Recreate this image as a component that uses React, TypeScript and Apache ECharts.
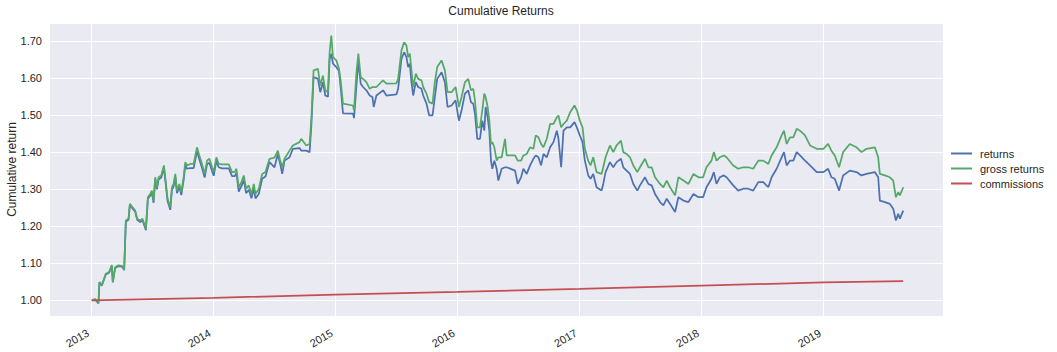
import React, { useEffect, useRef } from "react";
import * as echarts from "echarts";

const dates: string[] = [
  "2013-01-02","2013-01-12","2013-01-22","2013-01-25","2013-02-01","2013-02-13","2013-02-23","2013-03-03","2013-03-06","2013-03-13",
  "2013-03-23","2013-04-04","2013-04-09","2013-04-14","2013-04-22","2013-04-26","2013-05-04","2013-05-12","2013-05-18","2013-05-27",
  "2013-06-03","2013-06-13","2013-06-19","2013-06-26","2013-07-01","2013-07-06","2013-07-11","2013-07-16","2013-07-21","2013-07-29",
  "2013-08-06","2013-08-10","2013-08-17","2013-08-25","2013-08-30","2013-09-04","2013-09-09","2013-09-14","2013-09-21","2013-09-27",
  "2013-10-04","2013-10-09","2013-10-14","2013-10-24","2013-11-03","2013-11-13","2013-11-20","2013-11-28","2013-12-06","2013-12-13",
  "2013-12-20","2013-12-28",
  "2014-01-02","2014-01-10","2014-01-17","2014-01-27","2014-02-16","2014-02-26","2014-03-06","2014-03-11","2014-03-18","2014-03-26",
  "2014-04-02","2014-04-09","2014-04-17","2014-04-25","2014-05-02","2014-05-07","2014-05-17","2014-05-27","2014-06-06","2014-06-18",
  "2014-07-03","2014-07-13","2014-07-20","2014-07-26","2014-08-02","2014-08-17","2014-08-27","2014-09-16","2014-09-21","2014-10-06",
  "2014-10-16","2014-10-21","2014-10-28","2014-11-10","2014-11-17","2014-11-25","2014-12-02","2014-12-10","2014-12-15","2014-12-20",
  "2014-12-25",
  "2015-01-04","2015-01-12","2015-01-17","2015-01-24","2015-02-23","2015-02-26","2015-03-05","2015-03-11","2015-03-18","2015-03-25",
  "2015-04-04","2015-04-14","2015-04-22","2015-04-26","2015-05-04","2015-05-24","2015-06-03","2015-07-03","2015-07-08","2015-07-18",
  "2015-07-26","2015-08-02","2015-08-07","2015-08-12","2015-08-17","2015-08-22","2015-08-30","2015-09-06","2015-09-16","2015-09-21",
  "2015-10-01","2015-10-09","2015-10-19","2015-10-26","2015-11-02","2015-11-15","2015-11-25","2015-12-03","2015-12-15","2015-12-27",
  "2016-01-06","2016-01-14","2016-01-24","2016-02-03","2016-02-11","2016-02-18","2016-02-23","2016-03-01","2016-03-09","2016-03-16",
  "2016-03-22","2016-03-26","2016-04-01","2016-04-06","2016-04-11","2016-04-15","2016-04-21","2016-04-28","2016-05-03","2016-05-13",
  "2016-05-23","2016-05-28","2016-06-22","2016-06-30","2016-07-10","2016-07-17","2016-07-27","2016-08-06","2016-08-16","2016-08-23",
  "2016-08-31","2016-09-08","2016-09-15","2016-09-25","2016-10-05","2016-10-15","2016-10-25","2016-10-30","2016-11-07","2016-11-14",
  "2016-11-24","2016-12-04","2016-12-17","2016-12-24",
  "2017-01-02","2017-01-10","2017-01-17","2017-01-27","2017-02-03","2017-02-11","2017-02-21","2017-03-08","2017-03-13","2017-03-20",
  "2017-04-02","2017-04-12","2017-04-22","2017-05-05","2017-05-12","2017-05-22","2017-06-01","2017-06-11","2017-06-23","2017-07-01",
  "2017-07-16","2017-07-26","2017-08-05","2017-08-15","2017-08-30","2017-09-09","2017-09-19","2017-09-29","2017-10-14","2017-10-24",
  "2017-11-08","2017-11-23","2017-12-08","2017-12-23",
  "2018-01-06","2018-01-16","2018-01-31","2018-02-07","2018-02-15","2018-02-25","2018-03-09","2018-03-17","2018-04-06","2018-04-21",
  "2018-05-06","2018-05-21","2018-06-05","2018-06-20","2018-07-05","2018-07-20","2018-07-30","2018-08-14","2018-08-29","2018-09-05",
  "2018-09-13","2018-09-23","2018-10-03","2018-10-13","2018-10-23","2018-11-07","2018-11-22","2018-12-12",
  "2019-01-01","2019-01-15","2019-01-25","2019-02-04","2019-02-17","2019-03-01","2019-03-21","2019-04-10","2019-04-25","2019-05-10",
  "2019-06-04","2019-06-14","2019-06-19","2019-07-04","2019-07-19","2019-07-29","2019-08-06","2019-08-13","2019-08-18","2019-08-28",
];

const grossReturns: number[] = [
  1.000,1.004,0.993,1.050,1.041,1.072,1.077,1.096,1.050,1.090,
  1.095,1.093,1.084,1.216,1.221,1.261,1.252,1.243,1.221,1.216,
  1.221,1.194,1.279,1.288,1.297,1.270,1.333,1.306,1.333,1.338,
  1.365,1.333,1.275,1.252,1.306,1.315,1.342,1.297,1.315,1.293,
  1.333,1.374,1.365,1.369,1.369,1.414,1.392,1.369,1.342,1.378,
  1.383,1.360,
  1.347,1.387,1.369,1.368,1.368,1.347,1.347,1.356,1.306,1.320,
  1.338,1.302,1.311,1.288,1.315,1.288,1.302,1.342,1.347,1.383,
  1.386,1.405,1.378,1.360,1.383,1.405,1.419,1.428,1.437,1.419,
  1.423,1.486,1.622,1.626,1.581,1.608,1.568,1.563,1.671,1.716,
  1.658,
  1.649,1.626,1.595,1.532,1.527,1.514,1.613,1.667,1.604,1.599,
  1.590,1.572,1.577,1.577,1.577,1.595,1.586,1.587,1.599,1.676,
  1.698,1.689,1.658,1.667,1.622,1.577,1.613,1.599,1.595,1.577,
  1.559,1.536,1.532,1.590,1.631,1.649,1.622,1.563,1.563,1.577,
  1.523,1.550,1.590,1.599,1.568,1.572,1.541,1.468,1.468,1.514,
  1.559,1.550,1.523,1.486,1.423,1.428,1.414,1.378,1.387,1.387,
  1.437,1.392,1.392,1.378,1.378,1.392,1.396,1.414,1.410,1.446,
  1.441,1.423,1.414,1.437,1.477,1.477,1.495,1.500,1.468,1.477,
  1.486,1.509,1.527,1.514,
  1.486,1.468,1.410,1.378,1.365,1.387,1.347,1.342,1.360,1.387,
  1.419,1.401,1.419,1.432,1.401,1.396,1.387,1.365,1.347,1.360,
  1.383,1.360,1.360,1.333,1.315,1.306,1.324,1.306,1.284,1.333,
  1.324,1.315,1.342,1.333,
  1.333,1.360,1.378,1.401,1.378,1.387,1.392,1.387,1.365,1.356,
  1.360,1.360,1.356,1.378,1.378,1.369,1.392,1.414,1.446,1.459,
  1.423,1.441,1.441,1.464,1.459,1.446,1.419,1.410,
  1.410,1.423,1.405,1.392,1.360,1.401,1.423,1.414,1.401,1.410,
  1.414,1.387,1.342,1.338,1.333,1.324,1.279,1.293,1.284,1.306,
];

const netReturns: number[] = [
  1.000,1.003,0.992,1.049,1.040,1.070,1.075,1.094,1.049,1.088,
  1.093,1.091,1.082,1.213,1.218,1.258,1.249,1.240,1.218,1.212,
  1.217,1.190,1.275,1.283,1.292,1.264,1.328,1.300,1.327,1.332,
  1.359,1.326,1.268,1.245,1.299,1.308,1.335,1.290,1.307,1.285,
  1.325,1.365,1.356,1.358,1.358,1.404,1.382,1.358,1.332,1.368,
  1.372,1.350,
  1.337,1.377,1.360,1.357,1.357,1.336,1.336,1.345,1.294,1.309,
  1.326,1.290,1.299,1.276,1.302,1.276,1.288,1.329,1.335,1.374,
  1.360,1.396,1.369,1.342,1.378,1.387,1.410,1.412,1.405,1.405,
  1.401,1.468,1.604,1.599,1.563,1.590,1.554,1.551,1.653,1.667,
  1.640,
  1.631,1.620,1.577,1.506,1.505,1.493,1.577,1.649,1.586,1.577,
  1.568,1.554,1.550,1.523,1.554,1.568,1.554,1.557,1.572,1.653,
  1.671,1.658,1.631,1.640,1.590,1.554,1.590,1.577,1.572,1.554,
  1.532,1.500,1.500,1.550,1.599,1.617,1.590,1.523,1.527,1.541,
  1.486,1.514,1.559,1.568,1.536,1.532,1.505,1.437,1.437,1.486,
  1.459,1.523,1.495,1.459,1.378,1.356,1.378,1.356,1.324,1.356,
  1.360,1.360,1.351,1.315,1.333,1.356,1.342,1.365,1.383,1.392,
  1.387,1.365,1.396,1.387,1.414,1.428,1.459,1.437,1.360,1.459,
  1.468,1.468,1.482,1.468,
  1.446,1.428,1.378,1.338,1.329,1.342,1.306,1.297,1.315,1.347,
  1.374,1.360,1.374,1.383,1.360,1.351,1.342,1.315,1.297,1.311,
  1.333,1.315,1.311,1.288,1.266,1.257,1.275,1.261,1.239,1.279,
  1.270,1.266,1.288,1.279,
  1.279,1.306,1.329,1.347,1.315,1.333,1.338,1.333,1.311,1.297,
  1.302,1.302,1.297,1.320,1.320,1.306,1.333,1.356,1.387,1.401,
  1.365,1.378,1.378,1.401,1.392,1.378,1.365,1.347,
  1.347,1.356,1.333,1.329,1.297,1.338,1.351,1.347,1.338,1.342,
  1.347,1.333,1.270,1.266,1.261,1.248,1.216,1.234,1.221,1.243,
];

const commissionDates: string[] = [
  "2013-01-02","2014-01-01","2015-01-01","2016-01-01","2017-01-01","2018-01-01","2019-01-01","2019-08-28",
];
const commissionValues: number[] = [1.000, 1.007, 1.016, 1.023, 1.031, 1.040, 1.049, 1.052];

const yearTicks: string[] = ["2013-01-01","2014-01-01","2015-01-01","2016-01-01","2017-01-01","2018-01-01","2019-01-01"];

const seriesNames = ["returns", "gross returns", "commissions"];
const seriesColors = ["#4C72B0", "#55A868", "#C44E52"];
const yMin = 0.958;
const yMax = 1.75;
const xMin = "2012-08-30";
const xMax = "2019-12-25";

const FONT = "'Liberation Sans', Arial, 'DejaVu Sans', sans-serif";
const TEXT = "#262626";

const ts = (d: string) => Date.parse(d + "T00:00:00Z");

export default function App() {
  const ref = useRef<HTMLDivElement>(null);
  useEffect(() => {
    if (!ref.current) return;
    const chart = echarts.init(ref.current, undefined, { renderer: "svg" });
    const pair = (ds: string[], vs: number[]) => ds.map((d, i) => [ts(d), vs[i]]);
    const tickVals = yearTicks.map(ts);
    chart.setOption({
      animation: false,
      backgroundColor: "#ffffff",
      textStyle: { fontFamily: FONT },
      title: {
        text: "Cumulative Returns",
        left: 496,
        textAlign: "center",
        top: 0,
        textStyle: { fontSize: 12, fontWeight: "normal", color: TEXT, fontFamily: FONT },
      },
      legend: {
        orient: "vertical",
        left: 946,
        top: 142,
        icon: "rect",
        itemWidth: 21,
        itemHeight: 2,
        itemGap: 2,
        data: seriesNames,
        textStyle: { fontSize: 11, color: TEXT, fontFamily: FONT, lineHeight: 13, padding: [0, 0, 0, 3] },
      },
      grid: {
        left: 50,
        top: 23,
        right: 114,
        bottom: 36,
        show: true,
        backgroundColor: "#EAEAF2",
        borderWidth: 0,
        containLabel: false,
        outerBoundsMode: "none",
      },
      xAxis: {
        type: "value",
        min: ts(xMin),
        max: ts(xMax),
        axisLine: { show: false },
        axisTick: { show: false, customValues: tickVals },
        axisLabel: {
          customValues: tickVals,
          rotate: 30,
          margin: 14,
          padding: [0, 4, 0, 0],
          fontSize: 11,
          color: TEXT,
          fontFamily: FONT,
          formatter: (v: number) => String(new Date(v).getUTCFullYear()),
        },
        splitLine: { show: true, lineStyle: { color: "#ffffff", width: 1 } },
      },
      yAxis: {
        type: "value",
        min: yMin,
        max: yMax,
        splitNumber: 8,
        minInterval: 0.1,
        maxInterval: 0.1,
        name: "Cumulative return",
        nameLocation: "middle",
        nameGap: 32,
        nameMoveOverlap: false,
        nameTextStyle: { fontSize: 12, color: TEXT, fontFamily: FONT },
        axisLine: { show: false },
        axisTick: { show: false },
        axisLabel: {
          fontSize: 11,
          color: TEXT,
          fontFamily: FONT,
          margin: 8,
          showMinLabel: false,
          showMaxLabel: false,
          formatter: (v: number) => v.toFixed(2),
        },
        splitLine: { show: true, lineStyle: { color: "#ffffff", width: 1 } },
      },
      series: [
        {
          name: seriesNames[0],
          type: "line",
          data: pair(dates, netReturns),
          showSymbol: false,
          lineStyle: { width: 1.75, color: seriesColors[0] },
          itemStyle: { color: seriesColors[0] },
        },
        {
          name: seriesNames[1],
          type: "line",
          data: pair(dates, grossReturns),
          showSymbol: false,
          lineStyle: { width: 1.75, color: seriesColors[1] },
          itemStyle: { color: seriesColors[1] },
        },
        {
          name: seriesNames[2],
          type: "line",
          data: pair(commissionDates, commissionValues),
          showSymbol: false,
          lineStyle: { width: 1.75, color: seriesColors[2] },
          itemStyle: { color: seriesColors[2] },
        },
      ],
    });
    return () => chart.dispose();
  }, []);
  return (
    <div
      ref={ref}
      style={{ position: "fixed", left: 0, top: 0, width: 1057, height: 352 }}
    />
  );
}
